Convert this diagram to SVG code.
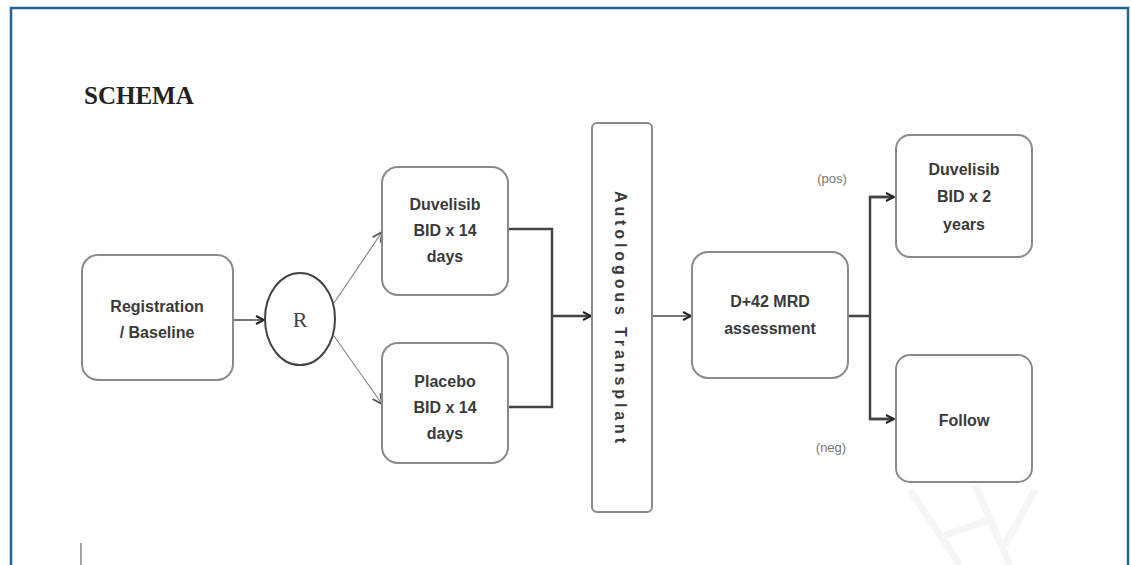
<svg xmlns="http://www.w3.org/2000/svg" width="1131" height="565" viewBox="0 0 1131 565">
<defs>
<style>
.box{fill:#fff;stroke:#8a8a8a;stroke-width:2}
.t{font-family:"Liberation Sans",Arial,sans-serif;font-weight:bold;font-size:16px;fill:#3a3a3a;text-anchor:middle}
.lab{font-family:"Liberation Sans",Arial,sans-serif;font-size:13px;fill:#777;text-anchor:middle}
.c{fill:none;stroke:#444;stroke-width:2.5}
.thin{fill:none;stroke:#8a8a8a;stroke-width:1.2}
.mid{fill:none;stroke:#777;stroke-width:2}
</style>
<marker id="ah" viewBox="0 0 10 10" refX="9" refY="5" markerWidth="10" markerHeight="10" markerUnits="userSpaceOnUse" orient="auto">
<path d="M1,1 L9,5 L1,9" fill="none" stroke="#222" stroke-width="2"/>
</marker>
<marker id="ahs" viewBox="0 0 10 10" refX="9" refY="5" markerWidth="12" markerHeight="12" markerUnits="userSpaceOnUse" orient="auto">
<path d="M1,1 L9,5 L1,9" fill="none" stroke="#555" stroke-width="1.5"/>
</marker>
</defs>
<rect x="0" y="0" width="1131" height="565" fill="#fff"/>
<path d="M11,570 L11,8 L1128,8 L1128,570" fill="none" stroke="#1f6596" stroke-width="2.5"/>
<g id="watermark" fill="none" stroke="#f5f5f5" stroke-width="7">
<path d="M910,490 L960,565"/>
<path d="M975,485 L1010,565"/>
<path d="M1035,490 L1005,545"/>
<path d="M945,535 L990,520"/>
</g>
<text x="84" y="104" font-family="'Liberation Serif','Times New Roman',serif" font-weight="bold" font-size="25" fill="#222">SCHEMA</text>
<line x1="81" y1="543" x2="81" y2="565" stroke="#888" stroke-width="1.5"/>
<g id="connectors">
<line class="mid" x1="233" y1="320" x2="264" y2="320" marker-end="url(#ah)"/>
<line class="thin" x1="334" y1="303" x2="382" y2="232" marker-end="url(#ahs)"/>
<line class="thin" x1="334" y1="336" x2="382" y2="404" marker-end="url(#ahs)"/>
<path class="c" d="M508,229 H552 V407 H508"/>
<line class="c" x1="552" y1="316" x2="591" y2="316" marker-end="url(#ah)"/>
<line class="mid" x1="652" y1="316" x2="691" y2="316" marker-end="url(#ah)"/>
<line class="c" x1="848" y1="316" x2="870" y2="316"/>
<path class="c" d="M893,197 H870 V419 H893"/>
<line class="c" x1="870" y1="197" x2="894" y2="197" marker-end="url(#ah)"/>
<line class="c" x1="870" y1="419" x2="894" y2="419" marker-end="url(#ah)"/>
</g>
<g id="registration">
<rect class="box" x="82" y="255" width="151" height="125" rx="16"/>
<text class="t" x="157" y="312">Registration</text>
<text class="t" x="157" y="338">/ Baseline</text>
</g>
<g id="randomize">
<ellipse cx="300" cy="319" rx="35" ry="46" fill="#fff" stroke="#444" stroke-width="2"/>
<text x="300" y="327" font-family="'Liberation Serif','Times New Roman',serif" font-size="22" fill="#444" text-anchor="middle">R</text>
</g>
<g id="duvelisib14">
<rect class="box" x="382" y="167" width="126" height="128" rx="16"/>
<text class="t" x="445" y="210">Duvelisib</text>
<text class="t" x="445" y="236">BID x 14</text>
<text class="t" x="445" y="262">days</text>
</g>
<g id="placebo">
<rect class="box" x="382" y="343" width="126" height="120" rx="16"/>
<text class="t" x="445" y="387">Placebo</text>
<text class="t" x="445" y="413">BID x 14</text>
<text class="t" x="445" y="439">days</text>
</g>
<g id="transplant">
<rect class="box" x="592" y="123" width="60" height="389" rx="5"/>
<text class="t" x="0" y="0" transform="translate(615,317) rotate(90)" textLength="252" lengthAdjust="spacing">Autologous  Transplant</text>
</g>
<g id="mrd">
<rect class="box" x="692" y="252" width="156" height="126" rx="16"/>
<text class="t" x="770" y="307">D+42 MRD</text>
<text class="t" x="770" y="334">assessment</text>
</g>
<g id="duvelisib2y">
<rect class="box" x="896" y="135" width="136" height="122" rx="14"/>
<text class="t" x="964" y="175">Duvelisib</text>
<text class="t" x="964" y="202">BID x 2</text>
<text class="t" x="964" y="230">years</text>
</g>
<g id="follow">
<rect class="box" x="896" y="355" width="136" height="127" rx="14"/>
<text class="t" x="964" y="426">Follow</text>
</g>
<text class="lab" x="832" y="183">(pos)</text>
<text class="lab" x="831" y="452">(neg)</text>
</svg>
